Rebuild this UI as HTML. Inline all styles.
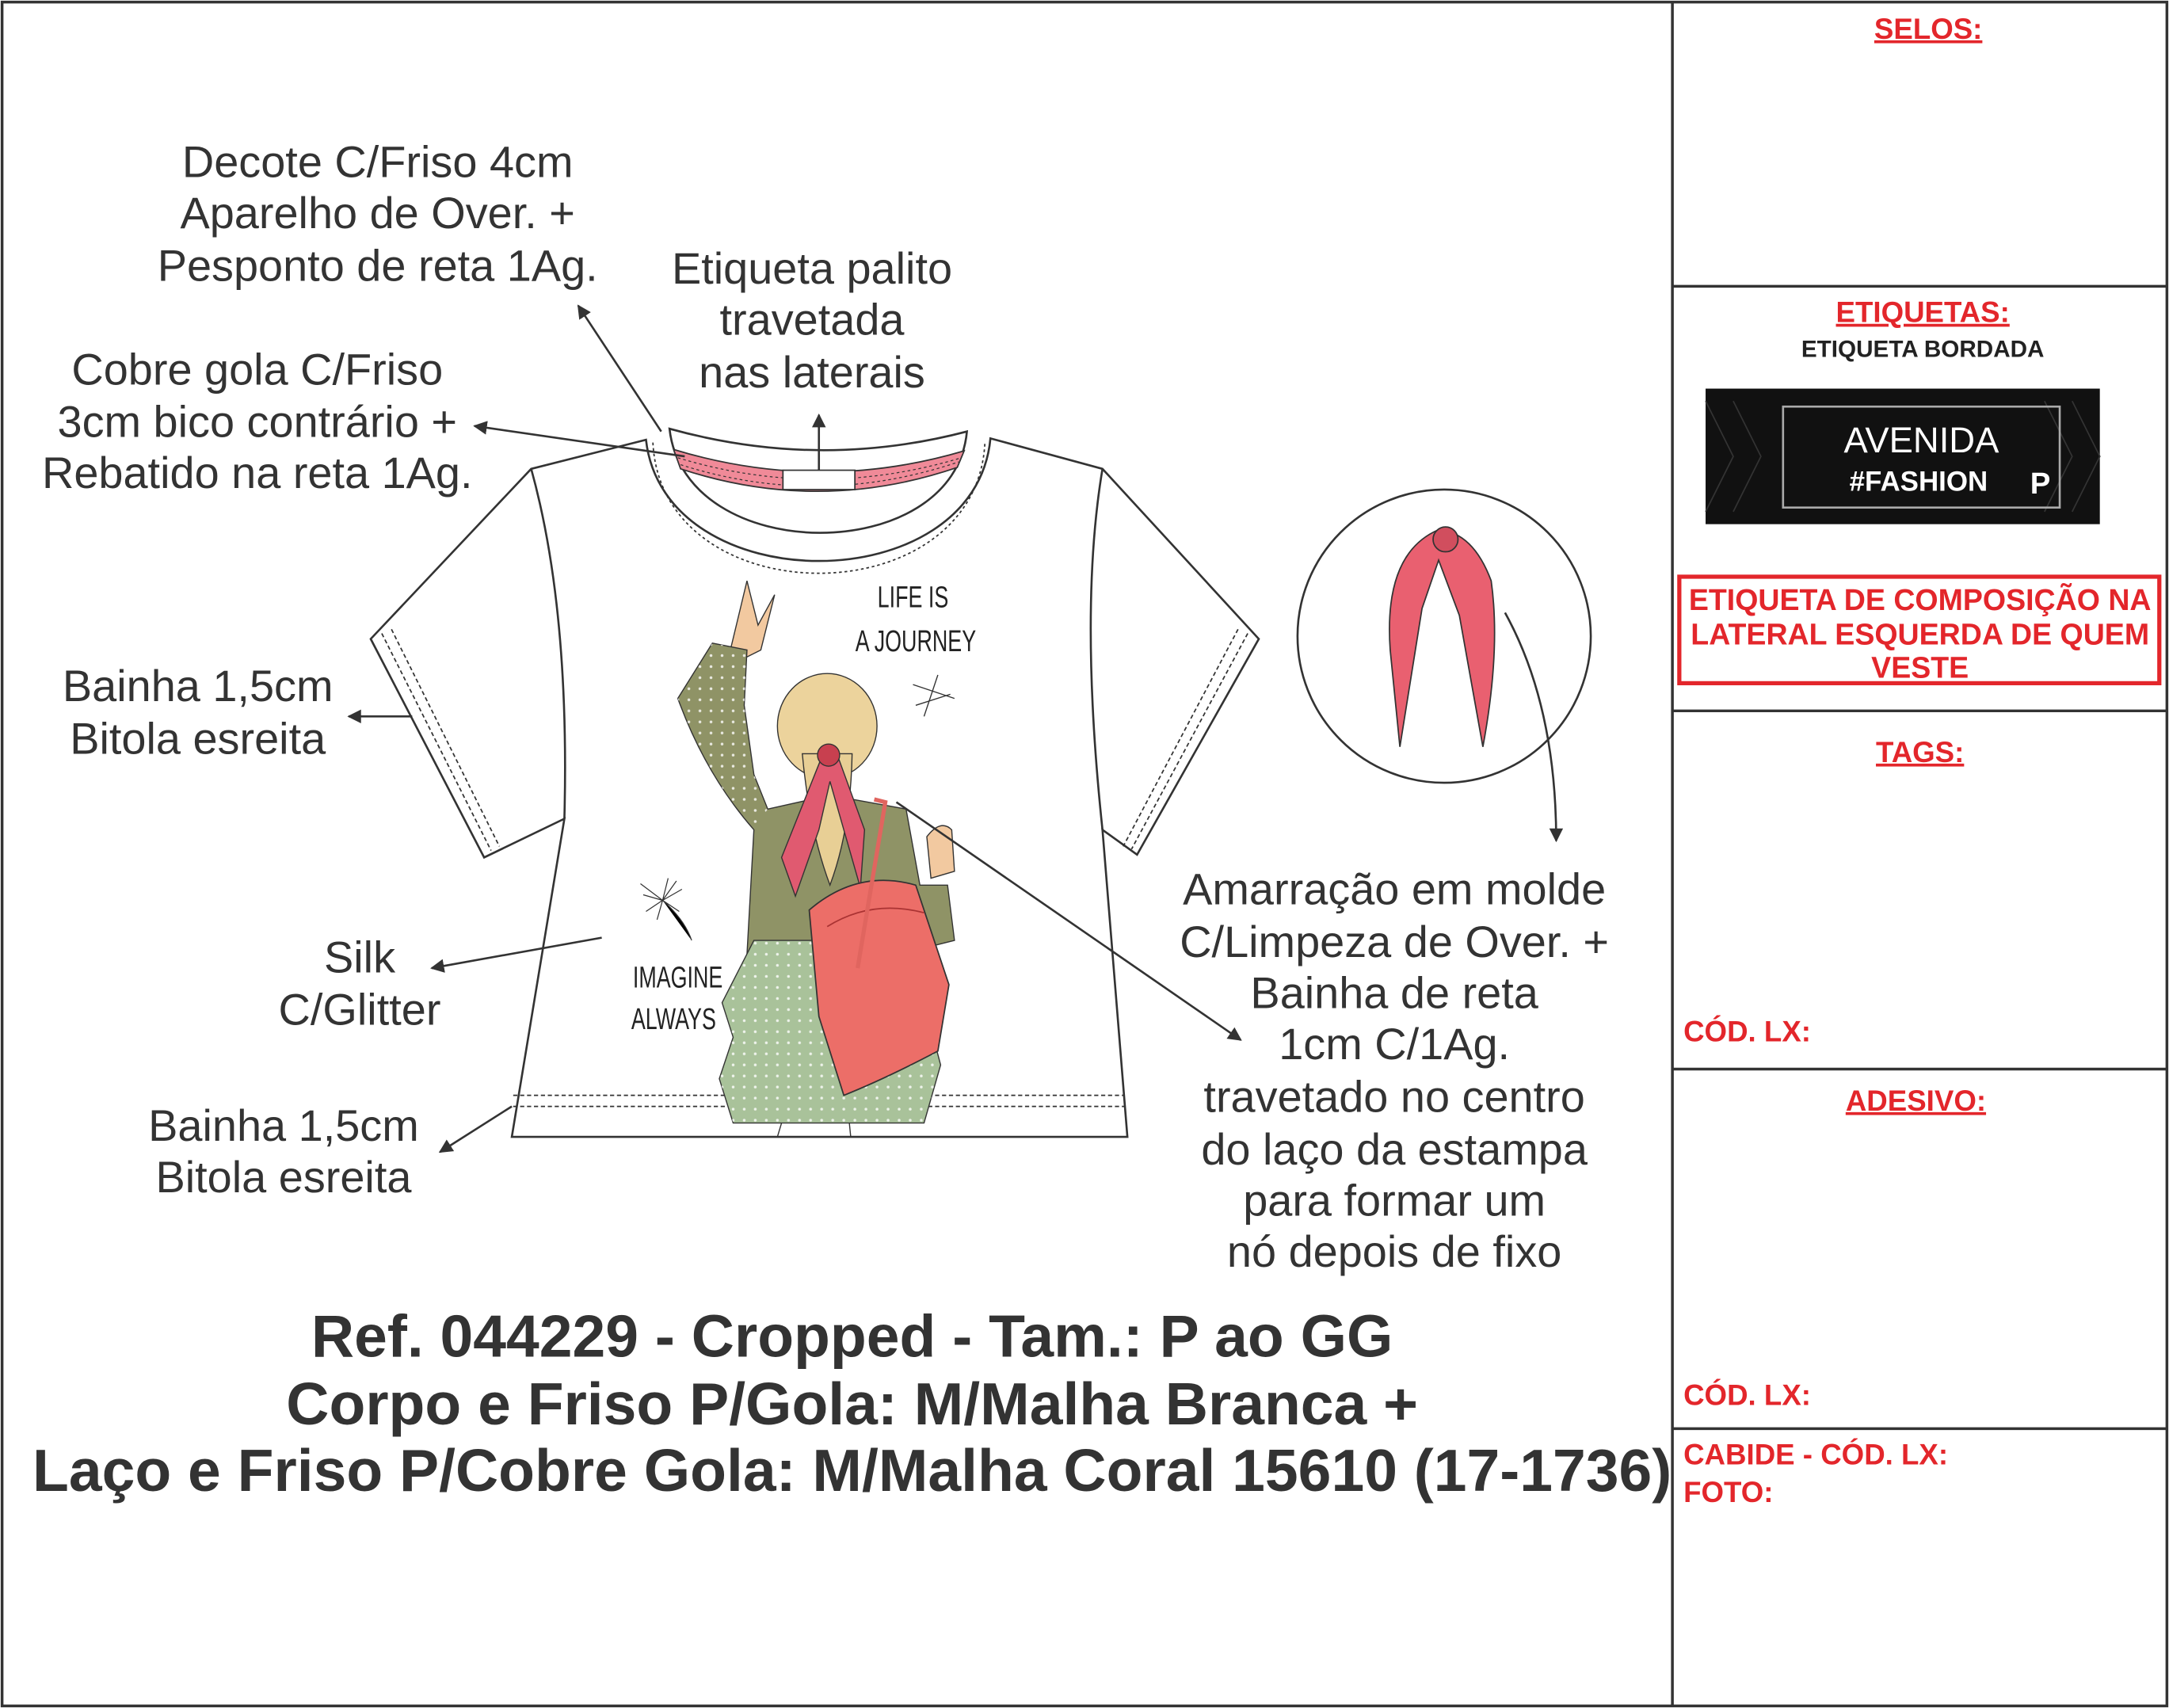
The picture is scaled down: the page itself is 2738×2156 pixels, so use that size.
<!DOCTYPE html>
<html><head><meta charset="utf-8"><style>html,body{margin:0;padding:0;background:#fff}svg{display:block}</style></head><body>
<svg xmlns="http://www.w3.org/2000/svg" width="2738" height="2156" viewBox="0 0 1568 1235" preserveAspectRatio="none" font-family="Liberation Sans, sans-serif">
<defs><marker id="a" markerWidth="10" markerHeight="10" refX="9" refY="5" orient="auto" markerUnits="userSpaceOnUse"><path d="M0,0 L10,5 L0,10 z" fill="#333"/></marker>
<pattern id="dots" width="8" height="8" patternUnits="userSpaceOnUse"><circle cx="2" cy="2" r="1" fill="#fff" opacity="0.8"/></pattern></defs>
<rect x="1.5" y="1.5" width="1565" height="1232" fill="#fff" stroke="#333" stroke-width="2"/>
<line x1="1209" y1="1" x2="1209" y2="1234" stroke="#333" stroke-width="2"/>
<g stroke="#333" stroke-width="2"><line x1="1209" y1="207" x2="1567" y2="207"/><line x1="1209" y1="514" x2="1567" y2="514"/><line x1="1209" y1="773" x2="1567" y2="773"/><line x1="1209" y1="1033" x2="1567" y2="1033"/></g>
<g fill="#e3262b" font-weight="bold" font-size="21">
<text x="1394" y="28" text-anchor="middle" text-decoration="underline">SELOS:</text>
<text x="1390" y="233" text-anchor="middle" text-decoration="underline">ETIQUETAS:</text>
<text x="1388" y="551" text-anchor="middle" text-decoration="underline">TAGS:</text>
<text x="1385" y="803" text-anchor="middle" text-decoration="underline">ADESIVO:</text>
<text x="1217" y="753">CÓD. LX:</text>
<text x="1217" y="1016">CÓD. LX:</text>
<text x="1217" y="1059">CABIDE - CÓD. LX:</text>
<text x="1217" y="1086">FOTO:</text>
<text x="1388" y="441" text-anchor="middle" font-size="21.5">ETIQUETA DE COMPOSIÇÃO NA</text>
<text x="1388" y="466" text-anchor="middle" font-size="21.5">LATERAL ESQUERDA DE QUEM</text>
<text x="1388" y="490" text-anchor="middle" font-size="21.5">VESTE</text>
</g>
<rect x="1214" y="417" width="347" height="77" fill="none" stroke="#e3262b" stroke-width="3"/>
<text x="1390" y="258" text-anchor="middle" font-size="17" font-weight="bold" fill="#222">ETIQUETA BORDADA</text>
<rect x="1233" y="281" width="285" height="98" fill="#111"/>
<g stroke="#333" stroke-width="1" fill="none"><path d="M1233,290 l20,40 l-20,40 M1253,290 l20,40 l-20,40 M1498,290 l20,40 l-20,40 M1478,290 l20,40 l-20,40"/></g>
<rect x="1289" y="294" width="200" height="73" fill="none" stroke="#aaa" stroke-width="1.5"/>
<text x="1389" y="327" text-anchor="middle" fill="#fff" font-size="26">AVENIDA</text>
<text x="1387" y="355" text-anchor="middle" fill="#fff" font-size="20" font-weight="bold" font-family="Liberation Sans Narrow, Liberation Sans, sans-serif">#FASHION</text>
<text x="1475" y="357" text-anchor="middle" fill="#fff" font-size="22" font-weight="bold">P</text>
<!-- shirt -->
<g fill="#fff" stroke="#333" stroke-width="1.5">
<path d="M467,318 L384,339 L268,462 L350,620 L408,592 L370,822 L815,822 L797,600 L822,618 L910,462 L797,339 L716,317 C705,435 480,435 467,318 Z"/>
<path d="M384,339 Q412,440 408,592" fill="none"/>
<path d="M797,339 Q780,440 797,600" fill="none"/>
<path d="M484,310 Q592,340 699,312 C690,410 495,410 484,310 Z"/>
</g>
<path d="M487,325 Q592,357 697,326 L692,338 Q592,372 492,339 Z" fill="#f08a98" stroke="#333" stroke-width="1"/>
<path d="M490,331 Q592,362 695,331 M492,336 Q592,368 693,334" fill="none" stroke="#333" stroke-width="0.7" stroke-dasharray="2,2"/>
<rect x="566" y="340" width="52" height="14" fill="#fff" stroke="#333"/>
<path d="M472,320 C478,446 706,446 712,320" fill="none" stroke="#333" stroke-dasharray="2,2"/>
<g stroke="#333" stroke-dasharray="3,2" fill="none"><line x1="276" y1="458" x2="355" y2="615"/><line x1="283" y1="455" x2="361" y2="612"/><line x1="902" y1="458" x2="818" y2="614"/><line x1="895" y1="455" x2="812" y2="612"/><line x1="371" y1="792" x2="813" y2="792"/><line x1="371" y1="800" x2="813" y2="800"/></g>
<!-- girl -->
<path d="M540,420 L548,452 L560,430 L550,470 L540,475 L528,470 Z" fill="#f2c9a0" stroke="#333" stroke-width="0.8"/>
<path d="M515,465 L540,470 L538,510 L545,560 L555,585 L600,575 L655,585 L665,640 L685,640 L690,680 L650,690 L540,690 L545,600 Q510,560 490,505 Z" fill="#8f9366" stroke="#333" stroke-width="0.8"/>
<path d="M490,505 L515,465 L540,470 L538,510 L545,560 L555,585 L545,600 Q510,560 490,505 Z" fill="url(#dots)"/>
<path d="M545,680 L675,680 L682,720 L672,740 L680,770 L668,812 L530,812 L520,780 L530,750 L522,725 Z" fill="#a9c29a" stroke="#333" stroke-width="0.8"/>
<path d="M545,680 L675,680 L682,720 L672,740 L680,770 L668,812 L530,812 L520,780 L530,750 L522,725 Z" fill="url(#dots)"/>
<path d="M670,605 Q680,592 688,600 L690,630 L673,635 Z" fill="#f2c9a0" stroke="#333" stroke-width="0.8"/>
<ellipse cx="598" cy="525" rx="36" ry="38" fill="#ecd39c" stroke="#333" stroke-width="0.8"/>
<path d="M580,545 Q585,600 600,640 Q615,600 616,545 Z" fill="#e8cf95" stroke="#333" stroke-width="0.8"/>
<path d="M595,545 L565,620 L575,648 L592,600 L600,565 L610,600 L622,642 L625,600 L605,545 Z" fill="#e05a70" stroke="#333" stroke-width="0.8"/>
<circle cx="599" cy="546" r="8" fill="#c8404f" stroke="#333" stroke-width="0.8"/>
<path d="M585,658 Q620,628 662,640 L686,712 L678,760 Q640,780 610,792 L592,735 Z" fill="#ec6e68" stroke="#333" stroke-width="1"/>
<path d="M598,670 Q630,650 668,660" fill="none" stroke="#a33"/>
<path d="M632,578 L640,580 L620,700" fill="none" stroke="#e0655f" stroke-width="3"/>
<path d="M565,812 L562,822 M614,812 L615,822" stroke="#333" stroke-width="0.8"/>
<g stroke="#333" stroke-width="0.7"><path d="M479,651 l-14,-4 M479,651 l-12,8 M479,651 l4,-16 M479,651 l14,-8 M479,651 l-4,14 M479,651 l12,8 M479,651 l-16,-12 M479,651 l10,-14 M479,651 Q495,665 500,680"/></g>
<path d="M660,495 l30,10 M662,510 l25,-8 M678,488 l-10,30" stroke="#333" stroke-width="0.8" fill="none"/>
<g font-family="Liberation Sans Narrow, Liberation Sans, sans-serif" fill="#222" font-size="22" text-anchor="middle">
<text x="660" y="439" transform="translate(660 439) scale(0.7 1) translate(-660 -439)">LIFE IS</text>
<text x="662" y="471" transform="translate(662 471) scale(0.7 1) translate(-662 -471)">A JOURNEY</text>
<text x="490" y="714" transform="translate(490 714) scale(0.7 1) translate(-490 -714)">IMAGINE</text>
<text x="487" y="744" transform="translate(487 744) scale(0.7 1) translate(-487 -744)">ALWAYS</text>
</g>
<!-- detail circle -->
<circle cx="1044" cy="460" r="106" fill="#fff" stroke="#333" stroke-width="1.5"/>
<path d="M1040,383 Q1000,400 1005,470 L1012,540 L1028,440 L1040,405 L1055,445 L1072,540 Q1085,470 1078,420 Q1065,385 1040,383 Z" fill="#e96070" stroke="#333" stroke-width="1"/>
<circle cx="1045" cy="390" r="9" fill="#d14e5e" stroke="#333"/>
<!-- arrows -->
<g stroke="#333" stroke-width="1.5" fill="none" marker-end="url(#a)">
<line x1="478" y1="312" x2="418" y2="221"/>
<line x1="495" y1="330" x2="343" y2="308"/>
<line x1="592" y1="340" x2="592" y2="300"/>
<line x1="298" y1="518" x2="252" y2="518"/>
<line x1="435" y1="678" x2="312" y2="700"/>
<line x1="370" y1="800" x2="318" y2="833"/>
<line x1="648" y1="580" x2="897" y2="752"/>
<path d="M1088,443 Q1125,510 1125,608"/>
</g>
<g fill="#333" font-size="32" text-anchor="middle">
<text x="273" y="128">Decote C/Friso 4cm</text>
<text x="273" y="165">Aparelho de Over. +</text>
<text x="273" y="203">Pesponto de reta 1Ag.</text>
<text x="587" y="205">Etiqueta palito</text>
<text x="587" y="242">travetada</text>
<text x="587" y="280">nas laterais</text>
<text x="186" y="278">Cobre gola C/Friso</text>
<text x="186" y="316">3cm bico contrário +</text>
<text x="186" y="353">Rebatido na reta 1Ag.</text>
<text x="143" y="507">Bainha 1,5cm</text>
<text x="143" y="545">Bitola esreita</text>
<text x="260" y="703">Silk</text>
<text x="260" y="741">C/Glitter</text>
<text x="205" y="825">Bainha 1,5cm</text>
<text x="205" y="862">Bitola esreita</text>
<text x="1008" y="654">Amarração em molde</text>
<text x="1008" y="692">C/Limpeza de Over. +</text>
<text x="1008" y="729">Bainha de reta</text>
<text x="1008" y="766">1cm C/1Ag.</text>
<text x="1008" y="804">travetado no centro</text>
<text x="1008" y="842">do laço da estampa</text>
<text x="1008" y="879">para formar um</text>
<text x="1008" y="916">nó depois de fixo</text>
</g>
<g fill="#333" font-size="43" font-weight="bold" text-anchor="middle">
<text x="616" y="981">Ref. 044229 - Cropped - Tam.: P ao GG</text>
<text x="616" y="1030">Corpo e Friso P/Gola: M/Malha Branca +</text>
<text x="616" y="1078">Laço e Friso P/Cobre Gola: M/Malha Coral 15610 (17-1736)</text>
</g>
</svg>
</body></html>
